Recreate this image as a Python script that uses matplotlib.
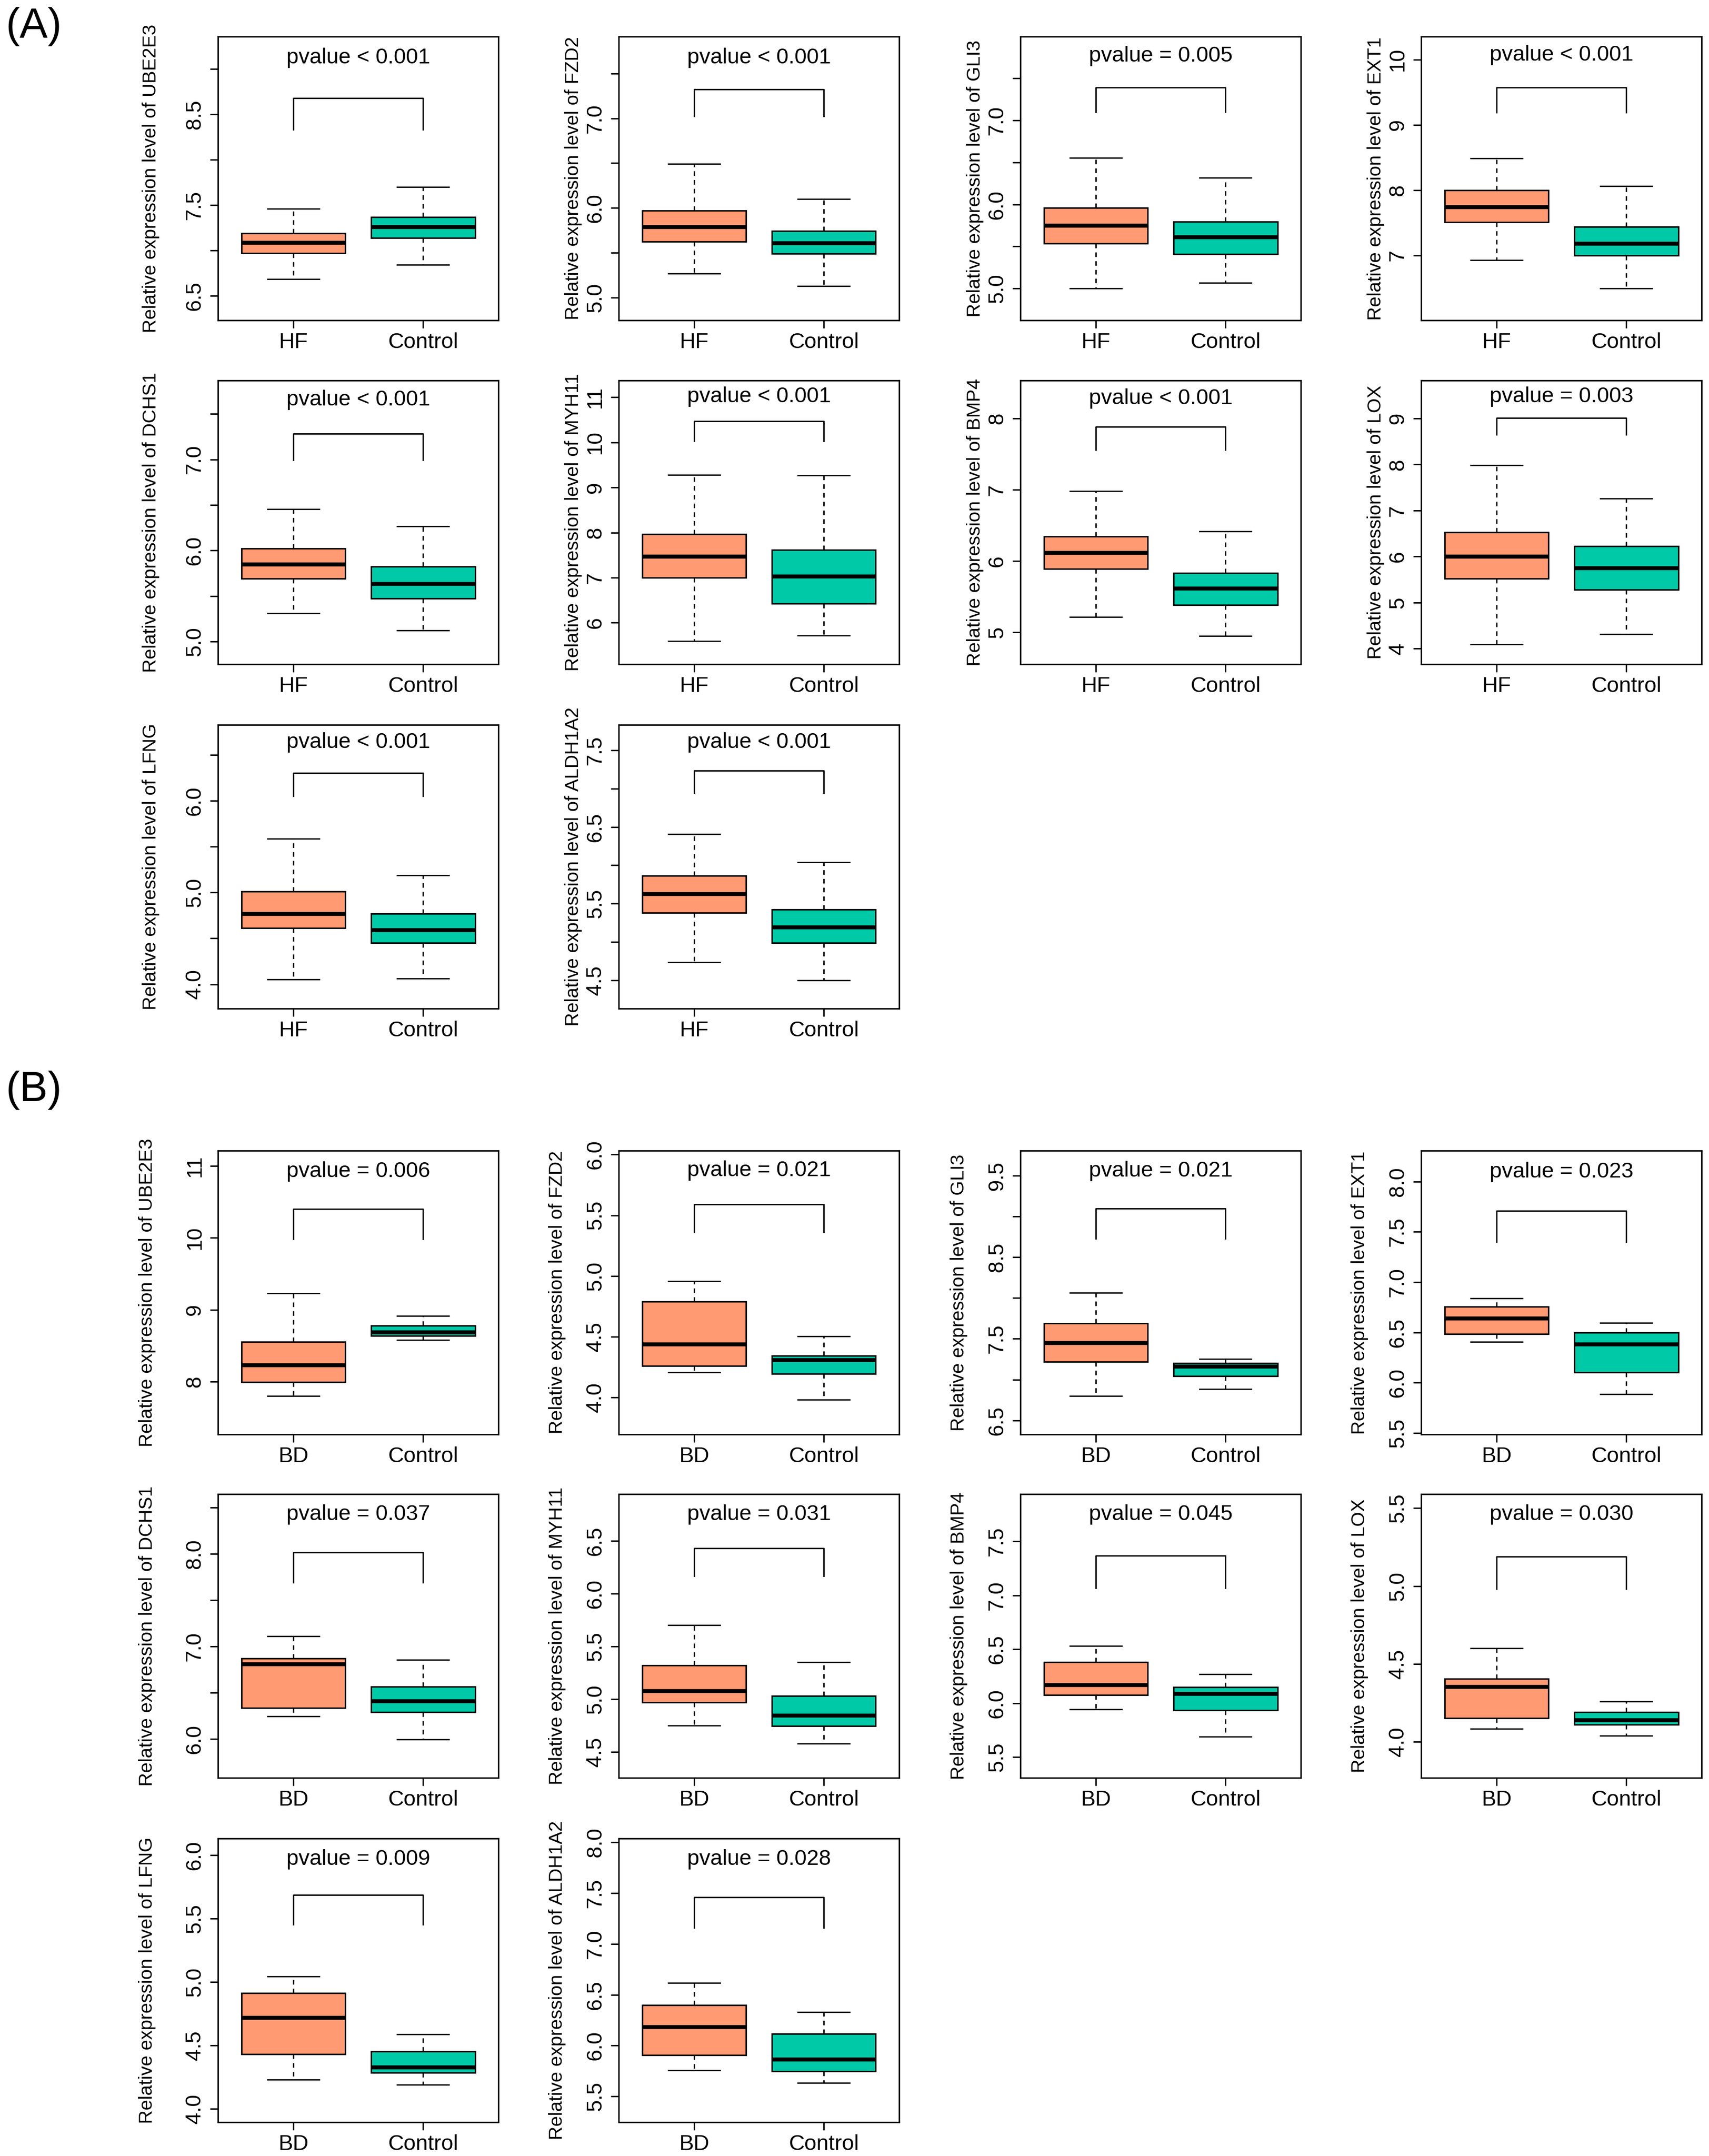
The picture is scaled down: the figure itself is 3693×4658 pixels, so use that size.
"""Boxplots of ten genes: HF vs Control (A) and BD vs Control (B)."""

import matplotlib

matplotlib.use("Agg")
import matplotlib.pyplot as plt  # noqa: E402

plt.rcParams["font.family"] = ["Liberation Sans", "DejaVu Sans"]

GENES = ["UBE2E3", "FZD2", "GLI3", "EXT1", "DCHS1",
         "MYH11", "BMP4", "LOX", "LFNG", "ALDH1A2"]

# box stats per gene: [whisker low, Q1, median, Q3, whisker high]
A_CASE = [[6.68, 6.97, 7.085, 7.19, 7.46],
          [5.265, 5.625, 5.79, 5.97, 6.49],
          [5.0, 5.535, 5.75, 5.96, 6.555],
          [6.925, 7.505, 7.74, 7.995, 8.485],
          [5.31, 5.69, 5.85, 6.025, 6.455],
          [5.59, 7.0, 7.47, 7.965, 9.28],
          [5.215, 5.89, 6.115, 6.345, 6.98],
          [4.09, 5.525, 6.0, 6.525, 7.985],
          [4.055, 4.615, 4.77, 5.01, 5.59],
          [4.735, 5.38, 5.63, 5.865, 6.41]]
A_CTRL = [[6.84, 7.135, 7.26, 7.365, 7.70],
          [5.125, 5.49, 5.61, 5.74, 6.10],
          [5.07, 5.41, 5.615, 5.795, 6.315],
          [6.495, 7.0, 7.18, 7.44, 8.065],
          [5.125, 5.475, 5.635, 5.825, 6.265],
          [5.715, 6.425, 7.025, 7.61, 9.27],
          [4.95, 5.385, 5.62, 5.835, 6.415],
          [4.32, 5.28, 5.755, 6.225, 7.26],
          [4.065, 4.45, 4.595, 4.77, 5.19],
          [4.495, 4.985, 5.19, 5.42, 6.04]]
A_PVAL = ["pvalue < 0.001", "pvalue < 0.001", "pvalue = 0.005", "pvalue < 0.001",
          "pvalue < 0.001", "pvalue < 0.001", "pvalue < 0.001", "pvalue = 0.003",
          "pvalue < 0.001", "pvalue < 0.001"]
A_YLIM = [(6.228, 9.357), (4.745, 7.9125), (4.622, 7.996), (6.004, 10.354),
          (4.753, 7.866), (5.079, 11.373), (4.556, 8.529), (3.663, 9.821),
          (3.735, 6.830), (4.129, 7.834)]
A_TICKSTEP = [0.5, 0.5, 0.5, 1, 0.5, 1, 1, 1, 0.5, 0.5]
A_BRACKET = [(8.33, 8.68), (7.025, 7.325), (7.099, 7.391), (9.19, 9.575),
             (6.99, 7.283), (10.03, 10.467), (7.556, 7.88), (8.644, 9.005),
             (6.05, 6.307), (6.944, 7.235)]
A_TEXT_Y = [9.12, 7.675, 7.764, 10.07, 7.655, 11.01, 8.278, 9.465, 6.639, 7.606]

B_CASE = [[7.80, 7.99, 8.23, 8.55, 9.23],
          [4.205, 4.26, 4.44, 4.79, 4.957],
          [6.80, 7.22, 7.45, 7.69, 8.065],
          [6.405, 6.485, 6.64, 6.755, 6.84],
          [6.245, 6.335, 6.81, 6.87, 7.11],
          [4.75, 4.97, 5.08, 5.32, 5.70],
          [5.945, 6.075, 6.17, 6.38, 6.53],
          [4.083, 4.153, 4.353, 4.406, 4.602],
          [4.23, 4.43, 4.72, 4.915, 5.045],
          [5.755, 5.905, 6.185, 6.40, 6.615]]
B_CTRL = [[8.575, 8.635, 8.685, 8.775, 8.91],
          [3.98, 4.195, 4.31, 4.345, 4.503],
          [6.885, 7.045, 7.16, 7.20, 7.255],
          [5.885, 6.105, 6.385, 6.50, 6.595],
          [5.995, 6.29, 6.41, 6.565, 6.855],
          [4.58, 4.745, 4.845, 5.03, 5.35],
          [5.69, 5.935, 6.09, 6.15, 6.27],
          [4.038, 4.112, 4.139, 4.192, 4.258],
          [4.19, 4.285, 4.33, 4.455, 4.59],
          [5.635, 5.745, 5.865, 6.115, 6.33]]
B_PVAL = ["pvalue = 0.006", "pvalue = 0.021", "pvalue = 0.021", "pvalue = 0.023",
          "pvalue = 0.037", "pvalue = 0.031", "pvalue = 0.045", "pvalue = 0.030",
          "pvalue = 0.009", "pvalue = 0.028"]
B_YLIM = [(7.263, 11.214), (3.695, 6.032), (6.328, 9.806), (5.487, 8.307),
          (5.580, 8.646), (4.254, 6.943), (5.308, 7.939), (3.769, 5.590),
          (3.895, 6.133), (5.246, 8.038)]
B_TICKSTEP = [1, 0.5, 0.5, 0.5, 0.5, 0.5, 0.5, 0.5, 0.5, 0.5]
B_BRACKET = [(9.983, 10.40), (5.362, 5.591), (8.728, 9.098), (7.40, 7.711),
             (7.691, 8.017), (6.165, 6.428), (7.069, 7.370), (4.980, 5.189),
             (5.455, 5.688), (7.160, 7.461)]
B_TEXT_Y = [10.927, 5.867, 9.559, 8.096, 8.427, 6.75, 7.751, 5.459, 5.969, 7.833]

C_CASE = "#FF9A73"
C_CTRL = "#00C9A7"

# canvas geometry in pixels (R composite, 300 dpi)
W, H, DPI = 3693, 4658, 300
COL_LEFT = [471, 1337, 2205, 3071]
PW, PH = 606, 613
PX = 72 / DPI                       # points per pixel


def yticks_for(lo, hi, step):
    k = int(-(-lo // step))
    ticks = []
    while k * step <= hi + 1e-9:
        ticks.append(round(k * step, 3))
        k += 1
    return ticks


def tick_labels(ticks, step, lo, hi):
    """R-style axis labels: drop a label when it would collide with the last one."""
    fmt = "{:.1f}" if step < 1 else "{:.0f}"
    em = 46.0
    per_px = PH / (hi - lo)
    out, last = [], None
    for t in ticks:
        s = fmt.format(t)
        w = sum(0.278 if ch == "." else 0.556 for ch in s) * em
        if last is None or (t - last[0]) * per_px >= (w + last[1]) / 2 + 0.833 * em:
            out.append(s)
            last = (t, w)
        else:
            out.append("")
    return out


def panel(fig, left, top, gene, case, ctrl, case_lbl, pval, ylim, step,
          bracket, text_y, ylab_off):
    ax = fig.add_axes([left / W, 1 - (top + PH) / H, PW / W, PH / H])
    stats = []
    for s in (case, ctrl):
        stats.append(dict(whislo=s[0], q1=s[1], med=s[2], q3=s[3], whishi=s[4],
                          fliers=[]))
    bp = ax.bxp(stats, positions=[1, 2], widths=0.8, capwidths=0.4,
                patch_artist=True, showfliers=False,
                boxprops=dict(linewidth=3.2 * PX, edgecolor="black"),
                medianprops=dict(color="black", linewidth=8.5 * PX,
                                 solid_capstyle="butt"),
                whiskerprops=dict(color="black", linewidth=3 * PX,
                                  linestyle=(0, (3.3, 3.0))),
                capprops=dict(color="black", linewidth=2.8 * PX))
    for patch, col in zip(bp["boxes"], (C_CASE, C_CTRL)):
        patch.set_facecolor(col)

    # significance bracket and p-value
    lo, hi = bracket
    ax.plot([1, 1, 2, 2], [lo, hi, hi, lo], color="black", lw=3 * PX)
    ax.text(1.5, text_y, pval, ha="center", va="center", fontsize=11.3)

    ax.set_xlim(0.42, 2.58)
    ax.set_ylim(*ylim)
    ax.set_xticks([1, 2])
    ax.set_xticklabels([case_lbl, "Control"], fontsize=11.3)
    ticks = yticks_for(ylim[0], ylim[1], step)
    ax.set_yticks(ticks)
    ax.set_yticklabels(tick_labels(ticks, step, *ylim), fontsize=11,
                       rotation=90, va="center")
    ax.tick_params(axis="both", direction="out", length=17 * PX,
                   width=3 * PX, color="black")
    ax.tick_params(axis="y", pad=11 * PX)
    ax.tick_params(axis="x", pad=9 * PX)
    for sp in ax.spines.values():
        sp.set_linewidth(3.2 * PX)

    fig.text((left - ylab_off) / W, 1 - (top + PH / 2) / H,
             f"Relative expression level of {gene}", rotation=90,
             ha="center", va="center", fontsize=9.8)


fig = plt.figure(figsize=(W / DPI, H / DPI), dpi=DPI)

sections = [
    ("(A)", 57, [79, 822, 1566], "HF", A_CASE, A_CTRL, A_PVAL, A_YLIM,
     A_TICKSTEP, A_BRACKET, A_TEXT_Y, [145, 98, 98, 98]),
    ("(B)", 2356, [2486, 3228, 3972], "BD", B_CASE, B_CTRL, B_PVAL, B_YLIM,
     B_TICKSTEP, B_BRACKET, B_TEXT_Y, [153, 133, 133, 133]),
]

for (tag, tag_y, rows, case_lbl, case, ctrl, pvals, ylims, steps, brackets,
     text_ys, offs) in sections:
    fig.text(12 / W, 1 - tag_y / H, tag, fontsize=21.8, ha="left", va="center")
    for i, gene in enumerate(GENES):
        r, c = divmod(i, 4)
        panel(fig, COL_LEFT[c], rows[r], gene, case[i], ctrl[i], case_lbl,
              pvals[i], ylims[i], steps[i], brackets[i], text_ys[i], offs[c])

fig.savefig("out.png", dpi=DPI, facecolor="white")
